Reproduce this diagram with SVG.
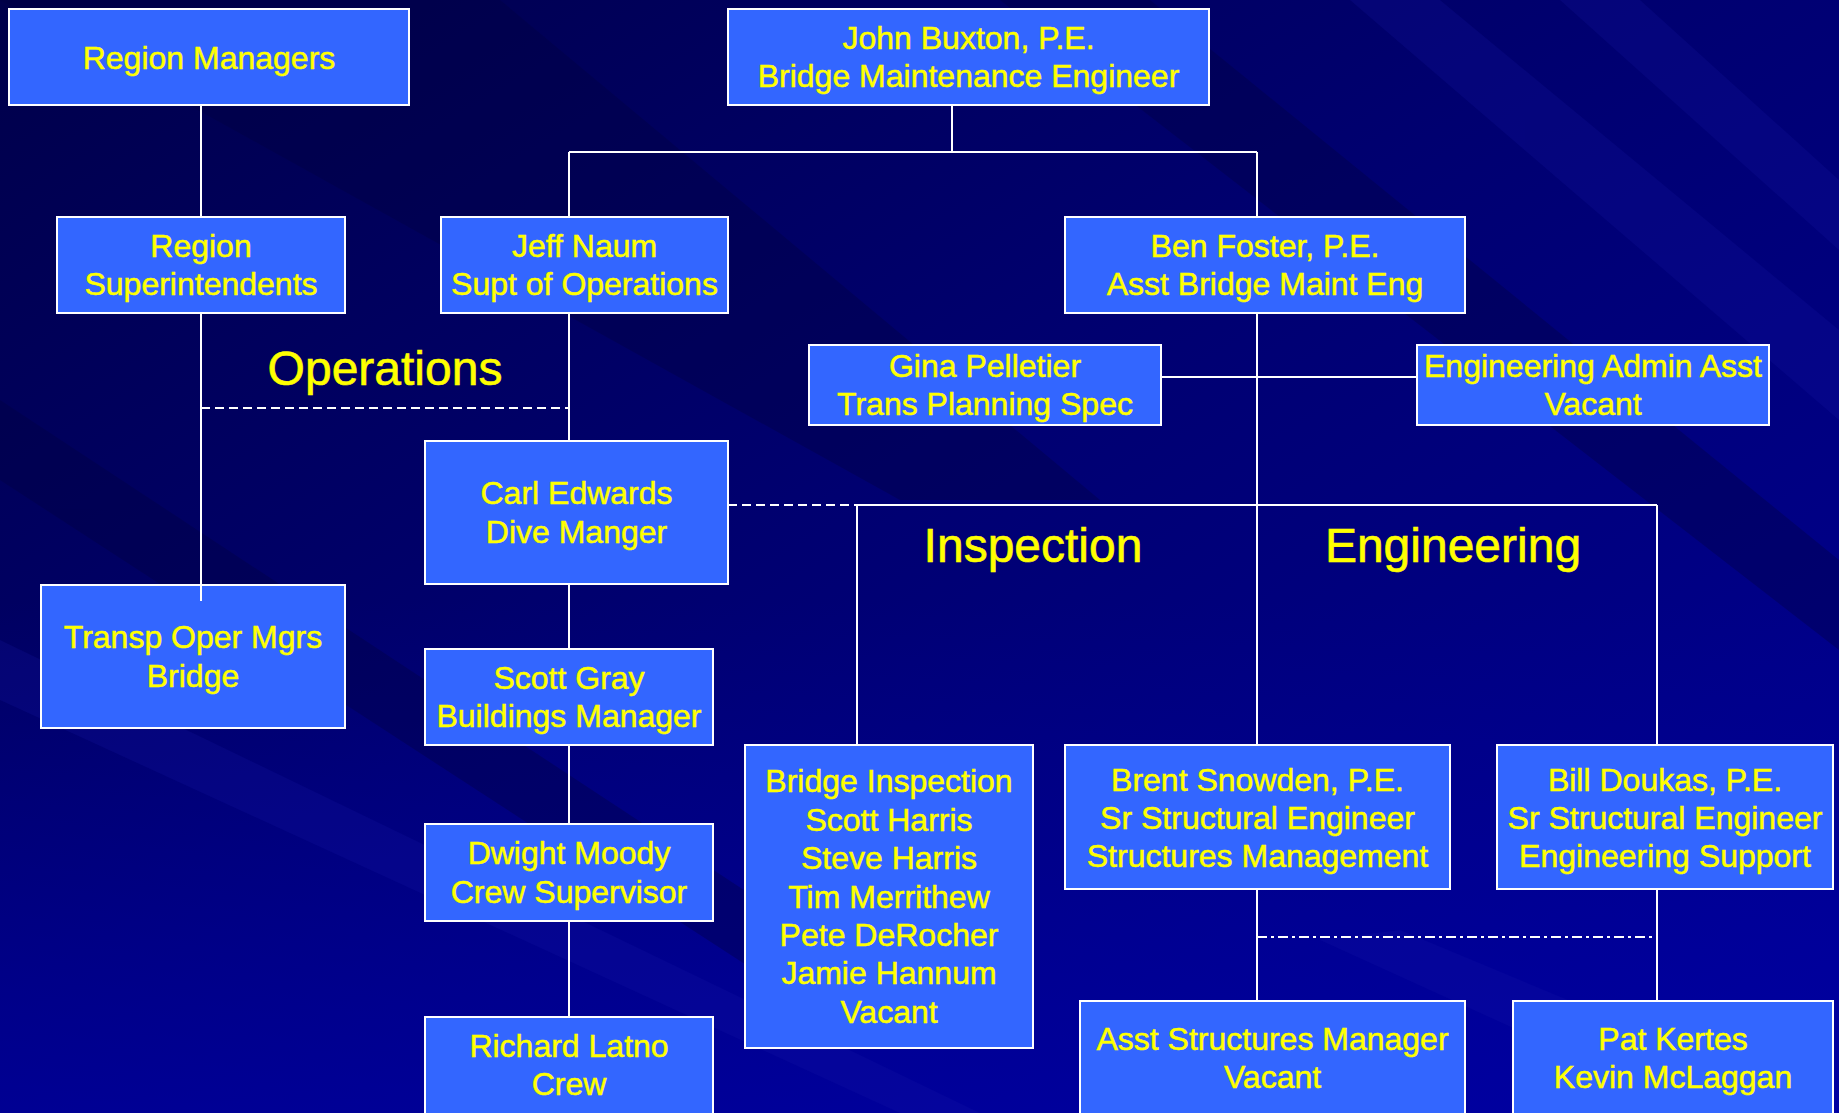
<svg xmlns="http://www.w3.org/2000/svg" width="1839" height="1113" viewBox="0 0 1839 1113">
  <defs>
    <linearGradient id="bg" x1="0" y1="0" x2="1" y2="1">
      <stop offset="0" stop-color="#00004a"/>
      <stop offset="0.45" stop-color="#000070"/>
      <stop offset="1" stop-color="#000098"/>
    </linearGradient>
    <linearGradient id="glowL" x1="0" y1="0" x2="0" y2="1">
      <stop offset="0" stop-color="#0000a0" stop-opacity="0"/>
      <stop offset="1" stop-color="#0000a8" stop-opacity="0.6"/>
    </linearGradient>
    <style>
      .box { fill: #3366ff; stroke: #ffffff; stroke-width: 2; }
      .t { font-family: "Liberation Sans", Arial, sans-serif; font-size: 32px; fill: #ffff00; stroke: #ffff00; stroke-width: 0.5; text-anchor: middle; }
      .lbl { font-family: "Liberation Sans", Arial, sans-serif; font-size: 48px; fill: #ffff00; stroke: #ffff00; stroke-width: 0.6; text-anchor: middle; }
      .ln { stroke: #ffffff; stroke-width: 2; fill: none; }
      .dash { stroke: #ffffff; stroke-width: 2; fill: none; stroke-dasharray: 9 5; }
      .dashdot { stroke: #ffffff; stroke-width: 2; fill: none; stroke-dasharray: 10 4 3 4; }
    </style>
  </defs>

  <!-- background -->
  <rect x="0" y="0" width="1839" height="1113" fill="url(#bg)"/>
  <rect x="0" y="600" width="1839" height="513" fill="url(#glowL)"/>
  <g fill="#1a1aa8" opacity="0.2">
    <polygon points="1350,0 1440,0 1839,330 1839,420"/>
    <polygon points="1560,0 1640,0 1839,180 1839,250"/>
    <polygon points="0,640 0,700 900,1113 980,1113"/>
    <polygon points="1320,940 1400,930 1839,1113 1700,1113"/>
  </g>
  <g fill="#000040" opacity="0.35">
    <polygon points="0,0 500,0 1100,500 900,500"/>
    <polygon points="1000,0 1150,0 1839,560 1839,650"/>
    <polygon points="0,400 0,480 800,1000 850,960"/>
  </g>

  <!-- section labels -->
  <text class="lbl" x="385" y="385">Operations</text>
  <text class="lbl" x="1033" y="562">Inspection</text>
  <text class="lbl" x="1453" y="562">Engineering</text>

  <!-- nodes -->
  <g id="region-managers">
    <rect class="box" x="9" y="9" width="400" height="96"/>
    <text class="t" x="209" y="68.5">Region Managers</text>
  </g>
  <g id="john-buxton">
    <rect class="box" x="728" y="9" width="481" height="96"/>
    <text class="t" x="968.5" y="48.8">John Buxton, P.E.</text>
    <text class="t" x="968.5" y="87.2">Bridge Maintenance Engineer</text>
  </g>
  <g id="region-superintendents">
    <rect class="box" x="57" y="217" width="288" height="96"/>
    <text class="t" x="201" y="256.8">Region</text>
    <text class="t" x="201" y="295.2">Superintendents</text>
  </g>
  <g id="jeff-naum">
    <rect class="box" x="441" y="217" width="287" height="96"/>
    <text class="t" x="584.5" y="256.8">Jeff Naum</text>
    <text class="t" x="584.5" y="295.2">Supt of Operations</text>
  </g>
  <g id="ben-foster">
    <rect class="box" x="1065" y="217" width="400" height="96"/>
    <text class="t" x="1265" y="256.8">Ben Foster, P.E.</text>
    <text class="t" x="1265" y="295.2">Asst Bridge Maint Eng</text>
  </g>
  <g id="gina-pelletier">
    <rect class="box" x="809" y="345" width="352" height="80"/>
    <text class="t" x="985" y="376.8">Gina Pelletier</text>
    <text class="t" x="985" y="415.2">Trans Planning Spec</text>
  </g>
  <g id="engineering-admin">
    <rect class="box" x="1417" y="345" width="352" height="80"/>
    <text class="t" x="1593" y="376.8">Engineering Admin Asst</text>
    <text class="t" x="1593" y="415.2">Vacant</text>
  </g>
  <g id="carl-edwards">
    <rect class="box" x="425" y="441" width="303" height="143"/>
    <text class="t" x="576.5" y="504.3">Carl Edwards</text>
    <text class="t" x="576.5" y="542.7">Dive Manger</text>
  </g>
  <g id="transp-oper-mgrs">
    <rect class="box" x="41" y="585" width="304" height="143"/>
    <text class="t" x="193" y="648.3">Transp Oper Mgrs</text>
    <text class="t" x="193" y="686.7">Bridge</text>
  </g>
  <g id="scott-gray">
    <rect class="box" x="425" y="649" width="288" height="96"/>
    <text class="t" x="569" y="688.8">Scott Gray</text>
    <text class="t" x="569" y="727.2">Buildings Manager</text>
  </g>
  <g id="dwight-moody">
    <rect class="box" x="425" y="824" width="288" height="97"/>
    <text class="t" x="569" y="864.3">Dwight Moody</text>
    <text class="t" x="569" y="902.7">Crew Supervisor</text>
  </g>
  <g id="richard-latno">
    <rect class="box" x="425" y="1017" width="288" height="110"/>
    <text class="t" x="569" y="1057">Richard Latno</text>
    <text class="t" x="569" y="1095.4">Crew</text>
  </g>
  <g id="bridge-inspection">
    <rect class="box" x="745" y="745" width="288" height="303"/>
    <text class="t" x="889" y="792.3">Bridge Inspection</text>
    <text class="t" x="889" y="830.7">Scott Harris</text>
    <text class="t" x="889" y="869.1">Steve Harris</text>
    <text class="t" x="889" y="907.5">Tim Merrithew</text>
    <text class="t" x="889" y="945.9">Pete DeRocher</text>
    <text class="t" x="889" y="984.3">Jamie Hannum</text>
    <text class="t" x="889" y="1022.7">Vacant</text>
  </g>
  <g id="brent-snowden">
    <rect class="box" x="1065" y="745" width="385" height="144"/>
    <text class="t" x="1257.5" y="790.6">Brent Snowden, P.E.</text>
    <text class="t" x="1257.5" y="829">Sr Structural Engineer</text>
    <text class="t" x="1257.5" y="867.4">Structures Management</text>
  </g>
  <g id="bill-doukas">
    <rect class="box" x="1497" y="745" width="336" height="144"/>
    <text class="t" x="1665" y="790.6">Bill Doukas, P.E.</text>
    <text class="t" x="1665" y="829">Sr Structural Engineer</text>
    <text class="t" x="1665" y="867.4">Engineering Support</text>
  </g>
  <g id="asst-structures-manager">
    <rect class="box" x="1080" y="1001" width="385" height="120"/>
    <text class="t" x="1272.5" y="1050">Asst Structures Manager</text>
    <text class="t" x="1272.5" y="1088.4">Vacant</text>
  </g>
  <g id="pat-kertes">
    <rect class="box" x="1513" y="1001" width="320" height="120"/>
    <text class="t" x="1673" y="1050">Pat Kertes</text>
    <text class="t" x="1673" y="1088.4">Kevin McLaggan</text>
  </g>

  <!-- connectors -->
  <g id="connectors">
    <path class="ln" d="M201 105 V217"/>
    <path class="ln" d="M201 313 V601"/>
    <path class="dash" d="M201 408 H569"/>
    <path class="ln" d="M952 105 V152"/>
    <path class="ln" d="M569 152 H1257"/>
    <path class="ln" d="M569 152 V217"/>
    <path class="ln" d="M1257 152 V217"/>
    <path class="ln" d="M569 313 V441"/>
    <path class="ln" d="M1257 313 V745"/>
    <path class="ln" d="M1161 377 H1417"/>
    <path class="dash" d="M728 505 H857"/>
    <path class="ln" d="M857 505 H1657"/>
    <path class="ln" d="M857 505 V745"/>
    <path class="ln" d="M1657 505 V745"/>
    <path class="ln" d="M569 584 V649"/>
    <path class="ln" d="M569 745 V824"/>
    <path class="ln" d="M569 921 V1017"/>
    <path class="ln" d="M1257 889 V1001"/>
    <path class="ln" d="M1657 889 V1001"/>
    <path class="dashdot" d="M1257 937 H1657"/>
  </g>
</svg>
